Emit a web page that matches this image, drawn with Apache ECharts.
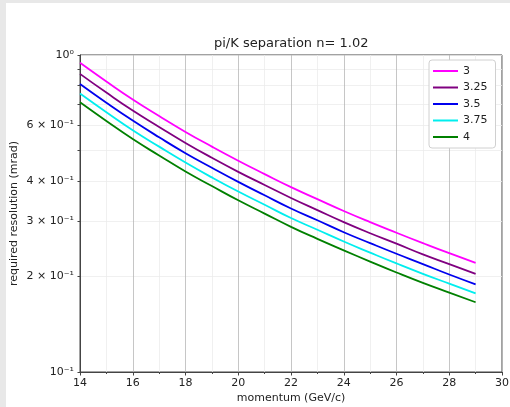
<!DOCTYPE html>
<html>
<head>
<meta charset="utf-8">
<script src="https://cdn.jsdelivr.net/npm/echarts@6/dist/echarts.min.js"></script>
<style>
html,body{margin:0;padding:0;background:#e8e8e8;width:510px;height:407px;overflow:hidden;}
#chart{position:absolute;left:6px;top:3px;width:504px;height:404px;background:#fff;}
</style>
</head>
<body>
<div id="chart"></div>
<script>
// momentum (GeV/c)
const momentum = [14,15,16,17,18,19,20,21,22,23,24,25,26,27,28,29];
// legend / series names (number of sigma)
const seriesNames = ['3','3.25','3.5','3.75','4'];
// required resolution (mrad)
const res_3    = [0.945,0.825,0.724,0.642,0.572,0.514,0.464,0.421,0.383,0.351,0.322,0.297,0.275,0.255,0.237,0.221];
const res_3_25 = [0.872,0.761,0.668,0.593,0.528,0.474,0.428,0.389,0.354,0.324,0.297,0.274,0.254,0.235,0.219,0.204];
const res_3_5  = [0.810,0.707,0.621,0.550,0.490,0.441,0.398,0.361,0.328,0.301,0.276,0.255,0.236,0.219,0.203,0.189];
const res_3_75 = [0.756,0.660,0.579,0.514,0.458,0.411,0.371,0.337,0.306,0.281,0.258,0.238,0.220,0.204,0.190,0.177];
const res_4    = [0.709,0.619,0.543,0.482,0.429,0.386,0.348,0.316,0.287,0.263,0.242,0.223,0.206,0.191,0.178,0.166];
// y tick labels
const yLabelValues = [0.1,0.2,0.3,0.4,0.6,1];
const yLabelTexts  = ['10\u207B\u00B9','2 \u00D7 10\u207B\u00B9','3 \u00D7 10\u207B\u00B9','4 \u00D7 10\u207B\u00B9','6 \u00D7 10\u207B\u00B9','10\u2070'];
const yTickValues  = [0.1,0.2,0.3,0.4,0.5,0.6,0.7,0.8,0.9,1];

const allSeries = [res_3,res_3_25,res_3_5,res_3_75,res_4];
const colors = ['#ff00ff','#800080','#0000ee','#00eeee','#008000'];
const font = 'DejaVu Sans';

const chart = echarts.init(document.getElementById('chart'), null, {renderer:'canvas'});
chart.setOption({
  animation:false,
  color: colors,
  title:{
    text:'pi/K separation n= 1.02',
    left:203, top:29,
    textStyle:{fontFamily:font,fontSize:13,fontWeight:'normal',color:'#222'}
  },
  grid:{left:74, top:52, width:422, height:317, show:true, borderColor:'#444', borderWidth:1,
        backgroundColor:'transparent', containLabel:false, outerBoundsMode:'none'},
  legend:{
    data: seriesNames,
    orient:'vertical',
    left:423, top:57,
    padding:[5,8,5,4],
    itemWidth:25, itemHeight:2, itemGap:4.5, itemTextGap:8,
    icon:'rect',
    backgroundColor:'#fff', borderColor:'#d0d0d0', borderWidth:1, borderRadius:3,
    textStyle:{fontFamily:font,fontSize:11,color:'#222',lineHeight:12}
  },
  xAxis:{
    type:'value', min:14, max:30, interval:2,
    name:'momentum (GeV/c)', nameLocation:'middle', nameGap:21, nameMoveOverlap:false,
    nameTextStyle:{fontFamily:font,fontSize:11,color:'#222'},
    axisLine:{show:true,lineStyle:{color:'#444',width:1}},
    axisTick:{show:true,length:3.5,lineStyle:{color:'#444'}},
    minorTick:{show:true,splitNumber:2,length:2,lineStyle:{color:'#444'}},
    axisLabel:{fontFamily:font,fontSize:11,color:'#222',margin:6},
    splitLine:{show:true,lineStyle:{color:'#b8b8b8',width:0.8}},
    minorSplitLine:{show:true,lineStyle:{color:'#ececec',width:0.8}}
  },
  yAxis:{
    type:'log', logBase:10, min:0.1, max:1,
    name:'required resolution (mrad)', nameLocation:'middle', nameGap:60, nameMoveOverlap:false,
    nameTextStyle:{fontFamily:font,fontSize:11,color:'#222'},
    axisLine:{show:true,lineStyle:{color:'#444',width:1}},
    axisTick:{show:true,length:2.5,customValues:yTickValues,lineStyle:{color:'#444'}},
    axisLabel:{
      fontFamily:font,fontSize:11,color:'#222',margin:6,
      customValues:yLabelValues,
      formatter:function(v){
        for(let i=0;i<yLabelValues.length;i++){ if(Math.abs(yLabelValues[i]-v)<1e-6) return yLabelTexts[i]; }
        return '';
      }
    },
    splitLine:{show:true,lineStyle:{color:'#ececec',width:0.8}}
  },
  series: seriesNames.map((n,i)=>({
    name:n, type:'line', showSymbol:false, symbol:'none', smooth:true,
    lineStyle:{width:1.8,color:colors[i]},
    data: momentum.map((m,j)=>[m, allSeries[i][j]])
  }))
});
</script>
</body>
</html>
